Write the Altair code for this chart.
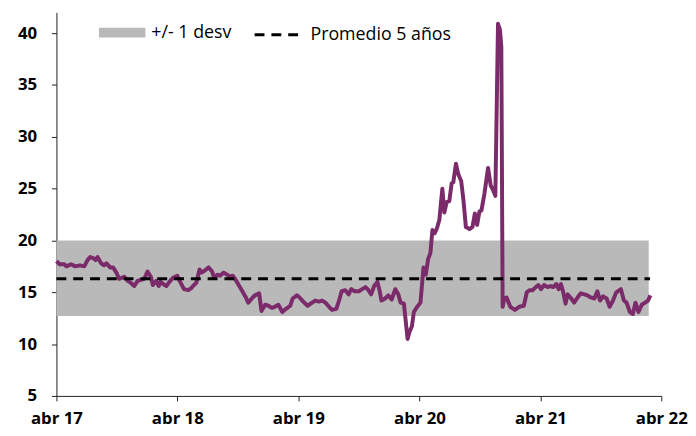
import altair as alt
import pandas as pd

# ---- data ----
dates = [
    "2017-04-01", "2017-04-11", "2017-04-25", "2017-05-01", "2017-05-15", "2017-05-28",
    "2017-06-11", "2017-06-24", "2017-07-04", "2017-07-12", "2017-07-21", "2017-07-28",
    "2017-08-03", "2017-08-14", "2017-08-23", "2017-08-30", "2017-09-10", "2017-09-19",
    "2017-09-29", "2017-10-07", "2017-10-23", "2017-11-02", "2017-11-12", "2017-11-22",
    "2017-12-02", "2017-12-12", "2017-12-22", "2018-01-01", "2018-01-11", "2018-01-17",
    "2018-01-27", "2018-02-04", "2018-02-09", "2018-02-17", "2018-02-27", "2018-03-08",
    "2018-03-19", "2018-04-01", "2018-04-08", "2018-04-21", "2018-05-04", "2018-05-13",
    "2018-05-21", "2018-05-28", "2018-06-07", "2018-06-13", "2018-06-23", "2018-07-04",
    "2018-07-15", "2018-07-21", "2018-07-31", "2018-08-08", "2018-08-19", "2018-08-29",
    "2018-09-06", "2018-09-15", "2018-09-22", "2018-10-05", "2018-10-16", "2018-10-25",
    "2018-11-01", "2018-11-12", "2018-11-21", "2018-12-04", "2018-12-11", "2018-12-22",
    "2019-01-01", "2019-01-11", "2019-01-20", "2019-01-31", "2019-02-12", "2019-02-23",
    "2019-03-08", "2019-03-15", "2019-03-28", "2019-04-05", "2019-04-16", "2019-04-29",
    "2019-05-13", "2019-05-22", "2019-06-02", "2019-06-12", "2019-06-22", "2019-07-03",
    "2019-07-12", "2019-07-25", "2019-08-04", "2019-08-10", "2019-08-21", "2019-08-31",
    "2019-09-08", "2019-09-18", "2019-10-01", "2019-10-11", "2019-10-21", "2019-10-30",
    "2019-11-07", "2019-11-16", "2019-11-26", "2019-12-03", "2019-12-08", "2019-12-19",
    "2019-12-29", "2020-01-08", "2020-01-19", "2020-01-28", "2020-02-04", "2020-02-14",
    "2020-02-25", "2020-03-02", "2020-03-09", "2020-03-15", "2020-03-25", "2020-04-04",
    "2020-04-13", "2020-04-20", "2020-04-27", "2020-05-04", "2020-05-10", "2020-05-17",
    "2020-05-24", "2020-05-31", "2020-06-09", "2020-06-15", "2020-06-22", "2020-06-30",
    "2020-07-07", "2020-07-12", "2020-07-20", "2020-07-27", "2020-08-05", "2020-08-12",
    "2020-08-19", "2020-08-30", "2020-09-08", "2020-09-15", "2020-09-22", "2020-09-29",
    "2020-10-05", "2020-10-14", "2020-10-25", "2020-11-02", "2020-11-10", "2020-11-16",
    "2020-11-24", "2020-11-30", "2020-12-04", "2020-12-08", "2020-12-13", "2020-12-20",
    "2020-12-31", "2021-01-14", "2021-01-27", "2021-02-10", "2021-02-19", "2021-02-27",
    "2021-03-08", "2021-03-18", "2021-03-26", "2021-04-03", "2021-04-12", "2021-04-23",
    "2021-05-02", "2021-05-10", "2021-05-19", "2021-05-26", "2021-06-02", "2021-06-09",
    "2021-06-16", "2021-06-22", "2021-07-03", "2021-07-12", "2021-07-22", "2021-08-01",
    "2021-08-12", "2021-08-21", "2021-08-31", "2021-09-11", "2021-09-20", "2021-09-28",
    "2021-10-07", "2021-10-18", "2021-10-27", "2021-11-06", "2021-11-16", "2021-11-30",
    "2021-12-09", "2021-12-17", "2021-12-27", "2022-01-05", "2022-01-13", "2022-01-22",
    "2022-02-01", "2022-02-11", "2022-02-20", "2022-02-27",
]
values = [
    18.0, 17.7, 17.7, 17.5, 17.7, 17.5,
    17.6, 17.5, 18.1, 18.4, 18.3, 18.1,
    18.4, 17.8, 17.6, 17.8, 17.4, 17.4,
    16.9, 16.3, 16.5, 16.1, 15.9, 15.6,
    16.1, 16.2, 16.3, 17.0, 16.5, 15.7,
    16.1, 15.6, 16.0, 15.8, 15.6, 16.0,
    16.4, 16.6, 16.1, 15.3, 15.2, 15.4,
    15.7, 15.9, 17.2, 16.9, 17.1, 17.4,
    17.0, 16.4, 16.7, 16.6, 16.9, 16.7,
    16.5, 16.6, 16.3, 15.6, 15.0, 14.5,
    14.0, 14.4, 14.7, 14.9, 13.2, 13.8,
    13.7, 13.5, 13.6, 13.8, 13.1, 13.4,
    13.7, 14.4, 14.7, 14.5, 14.1, 13.7,
    14.0, 14.2, 14.1, 14.2, 14.0, 13.6,
    13.3, 13.4, 14.4, 15.1, 15.2, 14.8,
    15.3, 15.1, 15.1, 15.3, 15.5, 15.2,
    14.8, 15.6, 16.0, 15.1, 14.2, 14.4,
    14.7, 14.3, 15.3, 14.8, 14.0, 13.9,
    10.5, 11.2, 11.7, 13.1, 13.6, 14.0,
    17.4, 16.7, 18.2, 18.8, 21.0, 20.7,
    21.2, 22.0, 25.0, 22.7, 23.7, 23.8,
    25.5, 25.6, 27.4, 26.4, 25.7, 23.8,
    21.3, 21.1, 21.3, 22.6, 21.5, 22.8,
    22.9, 24.5, 27.0, 25.3, 24.8, 24.3,
    40.9, 40.3, 38.7, 13.6, 14.4, 14.5,
    13.6, 13.3, 13.6, 13.7, 15.0, 15.2,
    15.2, 15.5, 15.7, 15.3, 15.7, 15.5,
    15.6, 15.5, 15.8, 15.3, 15.8, 15.0,
    13.9, 14.8, 14.4, 14.0, 14.5, 14.9,
    14.8, 14.7, 14.5, 14.4, 15.1, 14.2,
    14.6, 14.4, 13.6, 14.2, 15.0, 15.3,
    14.2, 14.0, 13.1, 12.9, 14.0, 13.1,
    13.8, 14.0, 14.2, 14.7,
]

band_start = "2017-04-01"
band_end = "2022-02-22"
mean_end = "2022-02-26"
band_low = 12.7
band_high = 20.0
mean_5y = 16.3
band_label = "+/- 1 desv"
mean_label = "Promedio 5 años"
x_tick_years = [2017, 2018, 2019, 2020, 2021, 2022]
y_ticks = [5, 10, 15, 20, 25, 30, 35, 40]
y_domain = [5, 42]

line_df = pd.DataFrame({"fecha": dates, "valor": values})
band_df = pd.DataFrame({"inicio": [band_start], "fin": [band_end],
                        "bajo": [band_low], "alto": [band_high], "serie": [band_label]})
mean_df = pd.DataFrame({"inicio": [band_start], "fin": [mean_end],
                        "valor": [mean_5y], "serie": [mean_label]})

FONT = "Open Sans"
tick_dates = [alt.DateTime(year=y, month=4, date=1, utc=True) for y in x_tick_years]
x_scale = alt.Scale(type="utc", domain=[tick_dates[0], tick_dates[-1]])
y_scale = alt.Scale(domain=y_domain, nice=False, zero=False)

x_axis = alt.Axis(
    values=tick_dates, labelExpr="'abr ' + utcFormat(datum.value, '%y')",
    title=None, grid=False, domainColor="#222", tickColor="#222", tickSize=5,
    labelFont=FONT, labelFontSize=17, labelFontWeight="bold", labelColor="#000",
    labelPadding=10, labelFlush=False, labelOverlap=False,
)
y_axis = alt.Axis(
    values=y_ticks, title=None, grid=False, domainColor="#222", tickColor="#222",
    tickSize=5, labelFont=FONT, labelFontSize=17, labelFontWeight="bold",
    labelColor="#000", labelPadding=15,
)

band = alt.Chart(band_df).mark_rect().encode(
    x=alt.X("inicio:T", scale=x_scale, axis=x_axis),
    x2="fin:T",
    y=alt.Y("bajo:Q", scale=y_scale, axis=y_axis),
    y2="alto:Q",
    fill=alt.Fill("serie:N", scale=alt.Scale(range=["#b9b9b9"]),
                  legend=alt.Legend(title=None, orient="none", legendX=43, legendY=-3,
                                    symbolType="M-1,-0.21H1V0.21H-1Z", symbolSize=2209,
                                    symbolStrokeWidth=0, padding=0,
                                    labelFont=FONT, labelFontSize=18, labelColor="#000",
                                    labelOffset=6)),
)

line = alt.Chart(line_df).mark_line(color="#7B2A6A", strokeWidth=4, strokeJoin="round").encode(
    x=alt.X("fecha:T", scale=x_scale),
    y=alt.Y("valor:Q", scale=y_scale),
)

mean_rule = alt.Chart(mean_df).mark_rule(color="black", strokeWidth=3).encode(
    x=alt.X("inicio:T", scale=x_scale),
    x2="fin:T",
    y=alt.Y("valor:Q", scale=y_scale),
    strokeDash=alt.StrokeDash("serie:N", scale=alt.Scale(range=[[10, 7]]),
                              legend=alt.Legend(title=None, orient="none", legendX=199, legendY=-4,
                                                symbolType="stroke", symbolSize=2500,
                                                symbolStrokeWidth=3, symbolStrokeColor="black",
                                                padding=0, labelFont=FONT, labelFontSize=18,
                                                labelColor="#000", labelOffset=5)),
)

chart = alt.layer(band, line, mean_rule).properties(
    width=612, height=388,
    padding={"left": 49, "top": 2, "right": 27, "bottom": 32},
    autosize=alt.AutoSizeParams(type="none"),
).configure_view(stroke=None)

chart.save("out.html", embed_options={"renderer": "svg", "actions": False})
